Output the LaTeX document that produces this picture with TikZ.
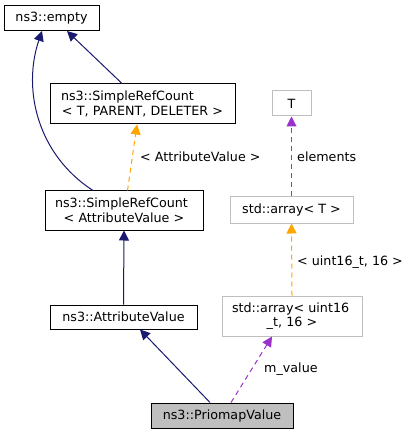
\documentclass[tikz,border=0pt]{standalone}
\usepackage{fontspec}
\setmainfont{DejaVu Sans}
\usetikzlibrary{arrows.meta}
\definecolor{edgeblue}{RGB}{25,25,112}
\definecolor{edgeorange}{RGB}{255,165,0}
\definecolor{edgepurple}{RGB}{153,50,204}
\definecolor{boxgrey}{RGB}{191,191,191}

\begin{document}
\begin{tikzpicture}[x=1pt,y=-1pt,
  font=\fontsize{12.7}{14.5}\selectfont,
  cls/.style={draw=black,fill=white,line width=1pt,inner xsep=10pt,inner ysep=0pt,minimum height=25pt},
  ext/.style={cls,draw=boxgrey},
  cur/.style={cls,fill=boxgrey},
  inh/.style={edgeblue,line width=1pt,-{Triangle[length=10pt,width=10pt]}},
  tpl/.style={edgeorange,line width=1pt,dash pattern=on 5pt off 4pt,-{Triangle[length=10pt,width=10pt]}},
  mbr/.style={edgepurple,line width=1pt,dash pattern=on 5pt off 4pt,-{Triangle[length=10pt,width=10pt]}},
  lbl/.style={anchor=west,inner sep=0pt}]
  \useasboundingbox (0,0) rectangle (409,435);

  % class nodes
  \draw (51.5,18)   node (empty) [cls,minimum width=95pt] {ns3::empty};
  \draw (142.5,104) node (srct)  [cls,text width=165pt,align=center,minimum height=40pt]
    {\makebox[\linewidth][l]{\hspace{1pt}ns3::SimpleRefCount}\\< T, PARENT, DELETER >};
  \draw (124,210.5) node (srcav) [cls,text width=138pt,align=center,minimum height=39pt]
    {\makebox[\linewidth][l]{ns3::SimpleRefCount}\\< AttributeValue >};
  \draw (123.5,317) node (attr)  [cls,minimum width=147pt,minimum height=24pt] {ns3::AttributeValue};
  \draw (222,415.5) node (prio)  [cur,minimum width=142pt] {ns3::PriomapValue};

  % std::array nodes
  \draw (291.5,103.5) node (tt)   [ext,minimum width=39pt] {T};
  \draw (291.5,210)   node (arrt) [ext,minimum width=123pt,minimum height=26pt] {std::array< T >};
  \draw (292,316)     node (arru) [ext,text width=120pt,align=center,minimum height=40pt]
    {\makebox[\linewidth][l]{std::array< uint16}\\\_t, 16 >};

  % inheritance
  \draw[inh] ([xshift=-20.5pt]srct.north) -- ([xshift=15.5pt]empty.south);
  \draw[inh] ([xshift=-31pt]srcav.north) .. controls (38,155) and (22,90) .. ([xshift=-9.5pt]empty.south);
  \draw[inh] (attr.north) -- (srcav.south);
  \draw[inh] ([xshift=-12pt]prio.north) -- ([xshift=16.5pt]attr.south);

  % template instances
  \draw[tpl] ([xshift=3.5pt]srcav.north) -- ([xshift=-5.5pt]srct.south);
  \draw (140,156.5) node (lsrc) [lbl] {< AttributeValue >};
  \draw[tpl] (arru.north) -- (arrt.south);
  \draw (297,262.5) node (larr) [lbl] {< uint16\_t, 16 >};

  % members
  \draw[mbr] (arrt.north) -- (tt.south);
  \draw (297,156.5) node (lel) [lbl] {elements};
  \draw[mbr] ([xshift=9pt]prio.north) -- ([xshift=-20pt]arru.south);
  \draw (264,369.5) node (lmv) [lbl] {m\_value};
\end{tikzpicture}
\end{document}
